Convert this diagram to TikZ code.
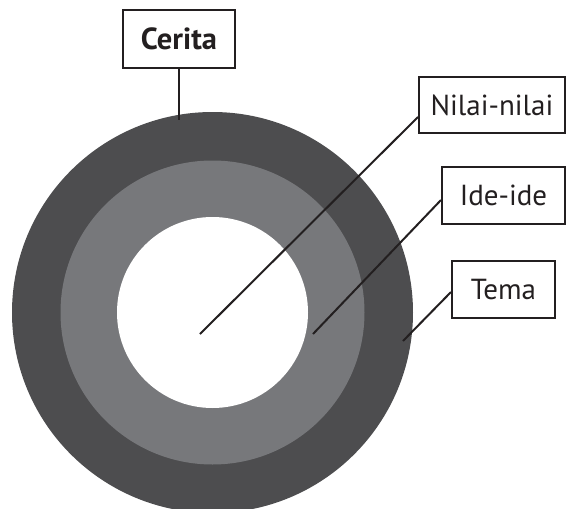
\documentclass[tikz,border=0pt]{standalone}
\usepackage{fontspec}
\setmainfont{PT Sans}
\usetikzlibrary{calc}
\definecolor{ringdark}{RGB}{77,77,79}
\definecolor{ringmid}{RGB}{119,120,123}
\definecolor{inkc}{RGB}{35,31,32}
\tikzset{
  labelbox/.style={draw=inkc, line width=2pt, fill=white, inner sep=0pt,
    font=\fontsize{29}{32}\selectfont, text=inkc},
  leader/.style={draw=inkc, line width=2pt}
}
\begin{document}
\begin{tikzpicture}[x=1pt,y=-1pt]
\useasboundingbox (0,0) rectangle (566,509);
\begin{scope}
\clip (0,0) rectangle (566,509);
\fill[ringdark] (212.5,312.5) circle (200.5);
\fill[ringmid] (212.5,312.5) circle (152);
\fill[white] (212.5,312.5) circle (95.5);
\end{scope}
\node[labelbox, minimum width=112pt, minimum height=58pt, font=\fontsize{30.5}{33}\selectfont\bfseries] (cerita) at (179,39) {Cerita};
\node[labelbox, minimum width=146pt, minimum height=56pt] (nilai) at (492,105) {Nilai-nilai};
\node[labelbox, minimum width=123pt, minimum height=57pt] (ide) at (503.5,195.5) {Ide-ide};
\node[labelbox, minimum width=103pt, minimum height=57pt] (tema) at (503.5,289.5) {Tema};
\coordinate (pc) at (179,120);
\coordinate (pn) at (200,334);
\coordinate (pi) at (313,334);
\coordinate (pt) at (403,341);
\draw[leader] (cerita.south) -- (pc);
\draw[leader] ($(nilai.west)+(0,12)$) -- (pn);
\draw[leader] ($(ide.west)+(0,4.5)$) -- (pi);
\draw[leader] ($(tema.west)+(0,2.5)$) -- (pt);
\end{tikzpicture}
\end{document}
